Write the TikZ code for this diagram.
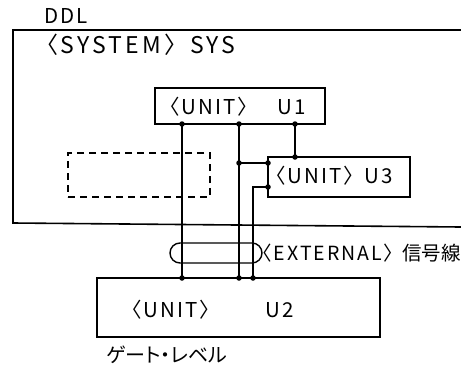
\documentclass[tikz,border=0pt]{standalone}
\usepackage{fontspec}
\setmainfont{Noto Sans CJK JP}
\newfontfamily\lsp{Noto Sans CJK JP}[LetterSpace=10,RawFeature=+palt]
\newfontfamily\lspw{Noto Sans CJK JP}[LetterSpace=14,RawFeature=+palt]
\newfontfamily\jpp{Noto Sans CJK JP}[RawFeature=+palt]
\begin{document}
\begin{tikzpicture}[x=1pt,y=-1pt,
  frame/.style={line width=1.6pt},
  box/.style={draw, line width=1.8pt, inner sep=0pt},
  dbox/.style={draw, line width=1.5pt, dash pattern=on 7pt off 5pt, inner sep=0pt},
  wire/.style={line width=1.4pt},
  dot/.style={circle, fill, inner sep=0pt, minimum size=5.5pt},
  lbl/.style={inner sep=0pt, anchor=west, font=\lsp\fontsize{20.5}{21}\selectfont},
  wlbl/.style={inner sep=0pt, anchor=west, font=\lspw\fontsize{23}{23}\selectfont},
  jlbl/.style={inner sep=0pt, anchor=west, font=\jpp\fontsize{19.5}{20}\selectfont}]
\useasboundingbox (0,0) rectangle (461,370);
% outer system frame (open at right)
\draw[frame] (461,30) -- (13,30) -- (13,223) -- (461,227);
\node[lbl] (ddl) at (44,16) {DDL};
\node[wlbl] (sysa) at (46,45) {〈SYSTEM〉};
\node[wlbl] (sysb) at (190,45) {SYS};
% boxes
\node[box, minimum width=170pt, minimum height=36pt] (U1) at (240,106) {};
\node[lbl] (t1a) at (169,107) {〈UNIT〉};
\node[lbl] (t1b) at (277,107) {U1};
\node[box, minimum width=142pt, minimum height=40pt] (U3) at (339,177) {};
\node[lbl] (t3a) at (275,176) {〈UNIT〉};
\node[lbl] (t3b) at (364,176) {U3};
\node[box, minimum width=283pt, minimum height=59pt] (U2) at (238.5,307.5) {};
\node[lbl] (t2a) at (131,310) {〈UNIT〉};
\node[lbl] (t2b) at (265,310) {U2};
\node[dbox, minimum width=142pt, minimum height=44pt] (D) at (139,175) {};
% junction points
\coordinate (a1) at (182,124);
\coordinate (a2) at (239,124);
\coordinate (a3) at (295,124);
\coordinate (b3) at (295,157);
\coordinate (j2) at (239,163);
\coordinate (c1) at (268,163);
\coordinate (c2) at (268,187);
\coordinate (k4) at (253,187);
\coordinate (d1) at (182,278);
\coordinate (d2) at (239,278);
\coordinate (d4) at (253,278);
% wires
\draw[wire] (a1) -- (d1);
\draw[wire] (a2) -- (d2);
\draw[wire] (j2) -- (c1);
\draw[wire] (a3) -- (b3);
\draw[wire] (c2) -- (k4) -- (d4);
\foreach \p in {a1,a2,a3,b3,j2,c1,c2,d1,d2,d4} \node[dot] at (\p) {};
% bundle
\node[draw, line width=1.4pt, rounded corners=10pt, minimum width=92pt, minimum height=20pt, inner sep=0pt] (B) at (216,253) {};
\node[lbl, font=\lsp\fontsize{19.5}{20}\selectfont] (exta) at (262,253) {〈EXTERNAL〉};
\node[jlbl] (extb) at (402,253) {信号線};
\node[jlbl, font=\jpp\fontsize{20}{20}\selectfont] (gate) at (106,355) {ゲート・レベル};
\end{tikzpicture}
\end{document}
